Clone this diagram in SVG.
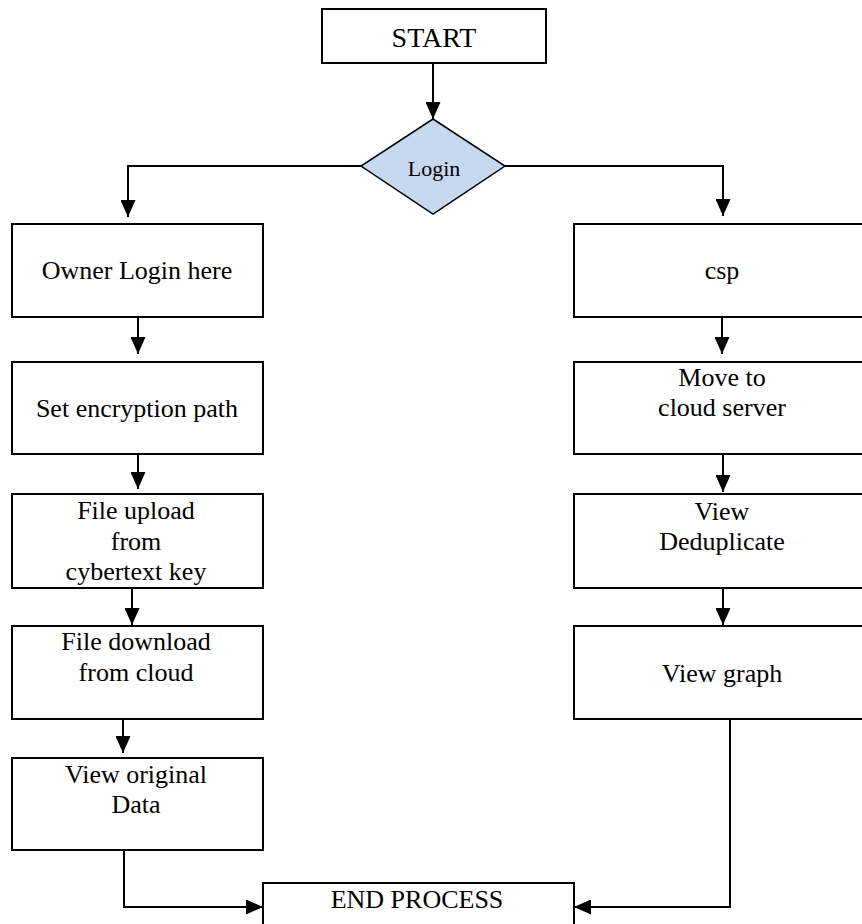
<svg xmlns="http://www.w3.org/2000/svg" width="862" height="924" viewBox="0 0 862 924">
<style>
.box{fill:#fff;stroke:#000;stroke-width:2}
.dia{fill:#c6d9f1;stroke:#000;stroke-width:1.5}
.t{font-family:"Liberation Serif","Times New Roman",serif;font-size:26px;fill:#000;text-anchor:middle}
.con{fill:none;stroke:#000;stroke-width:2}
</style>
<defs>
<marker id="ah" markerUnits="userSpaceOnUse" markerWidth="17" markerHeight="15" refX="17" refY="7.5" orient="auto">
<path d="M0,0 L17,7.5 L0,15 z" fill="#000"/>
</marker>
</defs>
<rect width="862" height="924" fill="#fff"/>
<g id="connectors">
<line class="con" x1="433" y1="63" x2="433" y2="119" marker-end="url(#ah)"/>
<polyline class="con" points="361,166 128,166 128,217" marker-end="url(#ah)"/>
<polyline class="con" points="505,166 723,166 723,216" marker-end="url(#ah)"/>
<line class="con" x1="138" y1="317" x2="138" y2="354" marker-end="url(#ah)"/>
<line class="con" x1="138" y1="454" x2="138" y2="489" marker-end="url(#ah)"/>
<line class="con" x1="132" y1="588" x2="132" y2="625" marker-end="url(#ah)"/>
<line class="con" x1="123" y1="716" x2="123" y2="753" marker-end="url(#ah)"/>
<polyline class="con" points="124,850 124,907 263,907" marker-end="url(#ah)"/>
<line class="con" x1="722" y1="317" x2="722" y2="354" marker-end="url(#ah)"/>
<line class="con" x1="723" y1="454" x2="723" y2="492" marker-end="url(#ah)"/>
<line class="con" x1="723" y1="588" x2="723" y2="625" marker-end="url(#ah)"/>
<polyline class="con" points="730,717 730,907 574,907" marker-end="url(#ah)"/>
</g>
<g id="start"><rect class="box" x="322" y="9" width="224" height="54"/><text class="t" x="434" y="47" style="font-size:28px">START</text></g>
<g id="login"><polygon class="dia" points="433,119 505,166 433,214 361,166"/><text class="t" x="434" y="176" style="font-size:22px">Login</text></g>
<g id="owner"><rect class="box" x="12" y="224" width="251" height="93"/><text class="t" x="137" y="279">Owner Login here</text></g>
<g id="setenc"><rect class="box" x="12" y="362" width="251" height="92"/><text class="t" x="137" y="417">Set encryption path</text></g>
<g id="upload"><rect class="box" x="12" y="494" width="251" height="94"/><text class="t" x="136" y="519">File upload</text><text class="t" x="136" y="550">from</text><text class="t" x="136" y="580">cybertext key</text></g>
<g id="download"><rect class="box" x="12" y="626" width="251" height="93"/><text class="t" x="136" y="650">File download</text><text class="t" x="136" y="681">from cloud</text></g>
<g id="vieworig"><rect class="box" x="12" y="758" width="251" height="92"/><text class="t" x="136" y="783">View original</text><text class="t" x="136" y="813">Data</text></g>
<g id="csp"><rect class="box" x="574" y="224" width="300" height="93"/><text class="t" x="722" y="279">csp</text></g>
<g id="move"><rect class="box" x="574" y="362" width="300" height="92"/><text class="t" x="722" y="386">Move to</text><text class="t" x="722" y="416">cloud server</text></g>
<g id="dedup"><rect class="box" x="574" y="494" width="300" height="94"/><text class="t" x="722" y="520">View</text><text class="t" x="722" y="550">Deduplicate</text></g>
<g id="graph"><rect class="box" x="574" y="626" width="300" height="93"/><text class="t" x="722" y="682">View graph</text></g>
<g id="end"><rect class="box" x="263" y="883" width="311" height="60"/><text class="t" x="417" y="908">END PROCESS</text></g>
</svg>
